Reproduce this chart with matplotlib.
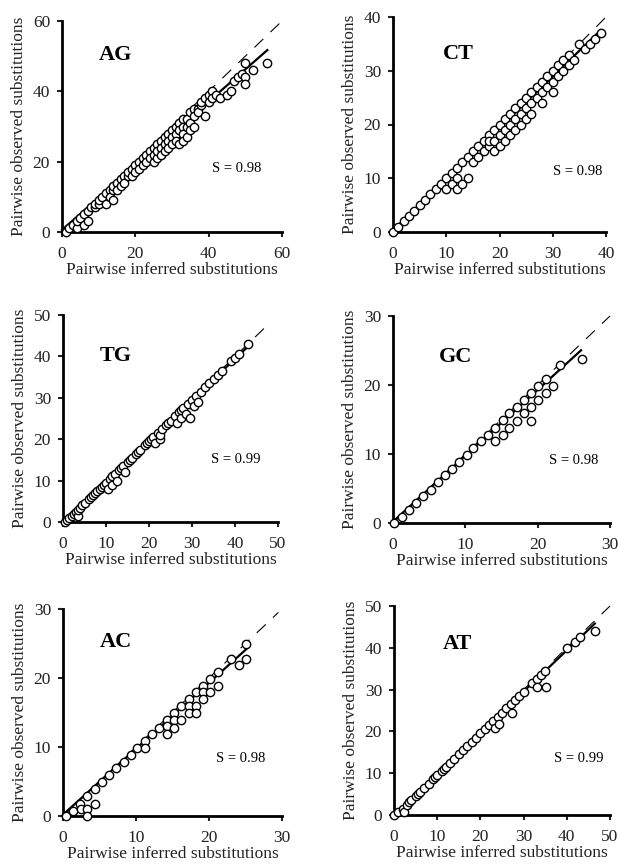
import matplotlib
matplotlib.use("Agg")
import matplotlib.pyplot as plt
import numpy as np

plt.rcParams["font.family"] = ["Liberation Serif", "DejaVu Serif"]

# ---------------------------------------------------------------- data
panel_names = ["AG", "CT", "TG", "GC", "AC", "AT"]
s_values = ["0.98", "0.98", "0.99", "0.98", "0.98", "0.99"]
axis_max = [60, 40, 50, 30, 30, 50]
tick_steps = [20, 10, 10, 10, 10, 10]
diag_end = [60, 40, 48, 30, 29.5, 50]
fit_slope = [0.913, 0.955, 0.985, 0.955, 0.955, 0.985]
fit_icept = [0.6, 0.3, 0.0, 0.2, 0.2, 0.0]
fit_xmax = [56, 38.6, 43, 26, 25.3, 46.5]

ag_x = [1, 2, 3, 4, 4, 5, 6, 6, 7, 7, 8, 9, 9, 10, 10, 11, 12, 12, 13, 13, 14, 14, 14,
        15, 15, 16, 16, 17, 17, 18, 18, 19, 19, 20, 20, 21, 21, 22, 22, 23, 23, 24, 24,
        25, 25, 25, 26, 26, 26, 27, 27, 27, 28, 28, 28, 29, 29, 29, 30, 30, 30, 31, 31,
        31, 32, 32, 32, 33, 33, 33, 33, 34, 34, 34, 35, 35, 35, 36, 36, 36, 37, 37, 38,
        38, 39, 39, 40, 40, 41, 41, 42, 43, 45, 46, 47, 48, 49, 50, 50, 50, 52, 56]
ag_y = [0, 1, 2, 1, 3, 4, 2, 5, 3, 6, 7, 7, 8, 8, 9, 10, 8, 11, 12, 10, 9, 12, 13,
        14, 12, 15, 13, 16, 14, 16, 17, 18, 16, 19, 17, 20, 18, 21, 19, 22, 20, 23, 21,
        24, 20, 22, 25, 21, 23, 26, 24, 22, 27, 25, 23, 28, 26, 24, 29, 27, 25, 30, 28,
        26, 31, 29, 25, 32, 30, 28, 26, 32, 30, 27, 34, 31, 29, 35, 33, 30, 35, 34, 36,
        37, 38, 33, 39, 37, 40, 38, 39, 38, 39, 40, 43, 44, 45, 44, 42, 48, 46, 48]

ct_x = [0, 1, 2, 3, 4, 5, 6, 7, 8, 9, 10, 10, 11, 11, 12, 12, 12, 13, 13, 14, 14,
        15, 15, 16, 16, 17, 17, 18, 18, 18, 19, 19, 19, 20, 20, 20, 21, 21, 21,
        22, 22, 22, 23, 23, 23, 24, 24, 24, 25, 25, 25, 26, 26, 26, 27, 27,
        28, 28, 28, 29, 29, 30, 30, 30, 31, 31, 32, 32, 33, 33, 34, 35, 36, 37, 38, 39]
ct_y = [0, 1, 2, 3, 4, 5, 6, 7, 8, 9, 10, 8, 11, 9, 12, 10, 8, 13, 9, 14, 10,
        15, 13, 16, 14, 17, 15, 18, 16, 17, 19, 17, 15, 20, 18, 16, 21, 19, 17,
        22, 20, 18, 23, 21, 19, 24, 22, 20, 25, 23, 21, 26, 24, 22, 27, 25,
        28, 26, 24, 29, 27, 30, 28, 26, 31, 29, 32, 30, 33, 31, 32, 35, 34, 35, 36, 37]

tg_x = [0.5, 1, 1.5, 2, 2.5, 3, 3.5, 3.5, 4, 4.5, 5, 6, 6.5, 7, 7.5, 8, 8.5, 9, 9.5, 10,
        10.5, 11, 11.5, 11.5, 12, 12.5, 13, 13.5, 14, 14.5, 15, 15.5, 16, 17, 17.5, 18,
        19, 19.5, 20, 20.5, 21, 21.5, 22, 22.5, 22.5, 23, 24, 24.5, 25, 26, 26.5, 27,
        27.5, 27.5, 28, 28.5, 29, 29.5, 30, 30.5, 31, 31.5, 32, 33, 34, 35, 36, 37, 39,
        40, 41, 43]
tg_y = [0, 0.5, 1, 1.5, 2, 2.5, 1.5, 3, 3.5, 4, 4.5, 5.5, 6, 6.5, 7, 7.5, 8, 8.5, 9, 9.5,
        8, 10.5, 9, 11, 11.5, 10, 12.5, 13, 13.5, 12, 14.5, 15, 15.5, 16.5, 17, 17.5,
        18.5, 19, 19.5, 20, 20.5, 19, 21.5, 20, 21, 22.5, 23.5, 24, 24.5, 25.5, 24, 26.5,
        25, 27, 27.5, 26, 28.5, 25, 29.5, 28, 30.5, 29, 31.5, 32.5, 33.5, 34.5, 35.5,
        36.5, 39, 39.5, 40.5, 43]

gc_x = [0.2, 1.3, 2.2, 3.2, 4.2, 5.2, 6.2, 7.2, 8.2, 9.1, 10.2, 11.1, 12.1, 13.1,
        14.1, 14.1, 15.2, 15.2, 16.1, 16.1, 17.1, 17.1, 18.1, 18.1, 19.1, 19.1, 19.1,
        20.1, 20.1, 21.1, 21.1, 22.1, 23.1, 26.1]
gc_y = [0, 0.8, 1.9, 2.9, 3.9, 4.8, 5.9, 6.9, 7.8, 8.9, 9.9, 10.9, 11.9, 12.8,
        13.8, 11.9, 14.9, 12.8, 15.9, 13.8, 16.8, 14.8, 17.8, 15.9, 18.9, 16.8, 14.8,
        19.8, 17.8, 20.8, 18.9, 19.8, 22.9, 23.8]

ac_x = [0.4, 1.4, 2.3, 2.4, 3.3, 3.3, 3.3, 4.4, 4.4, 5.4, 6.3, 7.3, 8.3, 9.3, 10.2,
        11.2, 11.2, 12.2, 13.2, 14.2, 14.2, 14.2, 15.2, 15.2, 15.2, 16.2, 16.2, 17.2,
        17.2, 17.2, 18.2, 18.2, 18.2, 19.2, 19.2, 19.2, 20.2, 20.2, 21.2, 21.2, 23.0,
        24.1, 25.1, 25.1]
ac_y = [0, 0.7, 1.8, 1.0, 2.9, 1.0, 0, 3.9, 1.8, 4.9, 5.9, 6.9, 7.8, 8.9, 9.8,
        10.9, 9.8, 11.9, 12.8, 13.9, 13.0, 11.9, 14.9, 13.9, 12.8, 15.9, 13.9, 16.9,
        15.9, 14.9, 17.9, 15.9, 14.9, 18.9, 17.9, 16.9, 19.9, 17.9, 20.9, 18.9, 22.8,
        21.9, 24.9, 22.8]

at_x = [0, 1, 2, 2.3, 3, 3.5, 4, 5, 5.5, 6, 7, 8, 9, 9.5, 10, 11, 11.5, 12, 13, 14,
        15, 16, 17, 18, 19, 20, 21, 22, 23, 23.3, 24, 24.3, 25, 26, 27, 27.2, 28, 29,
        30, 32, 33, 33.2, 34, 35, 35.2, 40, 42, 43, 46.5]
at_y = [0, 0.8, 1.5, 0.8, 2.5, 3, 3.5, 4.5, 5, 5.5, 6.5, 7.5, 8.5, 9, 9.5, 10.5, 11,
        11.5, 12.5, 13.5, 14.5, 15.5, 16.5, 17.5, 18.5, 19.5, 20.5, 21.5, 22.5, 20.7,
        23.5, 21.7, 24.5, 25.5, 26.5, 24.5, 27.5, 28.5, 29.5, 31.5, 32.5, 30.7, 33.5,
        34.5, 30.7, 40, 41.5, 42.5, 44]

xs = [ag_x, ct_x, tg_x, gc_x, ac_x, at_x]
ys = [ag_y, ct_y, tg_y, gc_y, ac_y, at_y]

# ---------------------------------------------------------------- layout (pixels)
W, H = 618, 866
# left, right, top, bottom of each plot area
boxes = [(62, 282, 21, 232), (393, 606, 17, 232),
         (63, 278, 315, 522), (393, 610, 316, 523),
         (63, 282, 609, 816), (394, 610, 606, 815)]
name_pos = [(0.165, 0.84), (0.235, 0.83), (0.17, 0.80),
            (0.21, 0.80), (0.17, 0.84), (0.227, 0.82)]
s_pos = [(0.68, 0.30), (0.75, 0.28), (0.69, 0.30),
         (0.72, 0.30), (0.70, 0.28), (0.74, 0.27)]

fig = plt.figure(figsize=(W / 100, H / 100), dpi=100, facecolor="white")

for i in range(6):
    l, r, t, b = boxes[i]
    ax = fig.add_axes([l / W, 1 - b / H, (r - l) / W, (b - t) / H])
    m = axis_max[i]

    ax.plot([0, diag_end[i]], [0, diag_end[i]], color="black", lw=0.8,
            dashes=(11, 9), clip_on=False, zorder=1)
    fx = np.array([0, fit_xmax[i]])
    ax.plot(fx, fit_icept[i] + fit_slope[i] * fx, color="black", lw=1.6,
            clip_on=False, zorder=2)
    ax.plot(xs[i], ys[i], "o", mfc="white", mec="black", ms=6, mew=1.0,
            clip_on=False, zorder=3)

    ax.set_xlim(0, m)
    ax.set_ylim(0, m)
    ticks = np.arange(0, m + 1, tick_steps[i])
    ax.set_xticks(ticks)
    ax.set_yticks(ticks)
    for side in ["top", "right"]:
        ax.spines[side].set_visible(False)
    for side in ["left", "bottom"]:
        ax.spines[side].set_linewidth(2.0)
    ax.tick_params(direction="out", length=3.6, width=1.5, labelsize=12.5,
                   colors="#222222")
    ax.tick_params(axis="x", pad=6.5)
    ax.tick_params(axis="y", pad=5)

    ax.set_xlabel("Pairwise inferred substitutions", fontsize=12.5,
                  labelpad=0, color="#222222")
    ax.set_ylabel("Pairwise observed substitutions", fontsize=12.5,
                  labelpad=4, color="#222222")

    ax.text(name_pos[i][0], name_pos[i][1], panel_names[i], transform=ax.transAxes,
            fontsize=16, fontweight="bold", ha="left", va="center")
    ax.text(s_pos[i][0], s_pos[i][1], "S = " + s_values[i], transform=ax.transAxes,
            fontsize=10.5, ha="left", va="center")

fig.savefig("out.png", dpi=100, facecolor="white")
